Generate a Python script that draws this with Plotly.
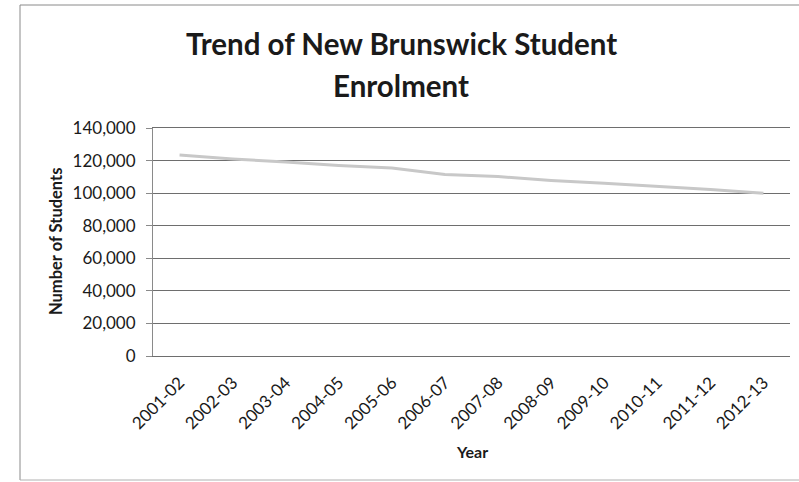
import plotly.graph_objects as go

years = ["2001-02", "2002-03", "2003-04", "2004-05", "2005-06", "2006-07",
         "2007-08", "2008-09", "2009-10", "2010-11", "2011-12", "2012-13"]
students = [123400, 121000, 119100, 117000, 115400, 111400,
            110200, 107800, 106000, 104200, 102200, 100000]
y_ticks = [0, 20000, 40000, 60000, 80000, 100000, 120000, 140000]
y_tick_labels = ["0", "20,000", "40,000", "60,000", "80,000", "100,000", "120,000", "140,000"]
title_lines = ["Trend of New Brunswick Student", "Enrolment"]

W, H = 799, 482
ML, MR, MT, MB = 153, 9, 128, 126
PW, PH = W - ML - MR, H - MT - MB

def px_x(px):
    return (px - ML) / PW

def px_y(py):
    return (H - MB - py) / PH

GRID = "#6e6e6e"

fig = go.Figure()
fig.add_trace(go.Scatter(
    x=years, y=students, mode="lines",
    line=dict(color="#c8c8c8", width=3),
    showlegend=False, hoverinfo="skip",
))

annotations = []
for i, line in enumerate(title_lines):
    annotations.append(dict(
        text=f"<b>{line}</b>", x=px_x(401), y=px_y(43 + 42 * i),
        xref="paper", yref="paper", xanchor="center", yanchor="middle",
        showarrow=False, font=dict(size=29.5, color="#1a1a1a")))
annotations += [
    dict(text="<b>Number of Students</b>", textangle=-90,
         x=px_x(56), y=px_y(242), xref="paper", yref="paper",
         xanchor="center", yanchor="middle", showarrow=False,
         font=dict(size=16.5, color="#1a1a1a")),
    dict(text="<b>Year</b>",
         x=px_x(472), y=px_y(451), xref="paper", yref="paper",
         xanchor="center", yanchor="middle", showarrow=False,
         font=dict(size=16, color="#1a1a1a")),
]

fig.update_layout(
    width=W, height=H,
    margin=dict(l=ML, r=MR, t=MT, b=MB, autoexpand=False),
    paper_bgcolor="white", plot_bgcolor="white",
    font=dict(family="Lato", color="#1a1a1a", size=17),
    xaxis=dict(
        type="category", range=[-0.5, 11.5],
        tickangle=-45, showgrid=False, zeroline=False,
        showline=True, mirror=True, linecolor=GRID, linewidth=1, ticks="",
        tickfont=dict(size=17), ticklabelstandoff=9,
    ),
    yaxis=dict(
        range=[0, 140000], tickvals=y_ticks, ticktext=y_tick_labels,
        showgrid=True, gridcolor=GRID, gridwidth=1,
        zeroline=False, showline=True, linecolor="#8a8a8a", linewidth=1,
        ticks="outside", ticklen=6, tickcolor="#8a8a8a",
        tickfont=dict(size=17), ticklabelstandoff=7,
    ),
    annotations=annotations,
    shapes=[
        dict(type="line", xref="paper", yref="paper",
             x0=px_x(20), x1=px_x(20), y0=px_y(5), y1=px_y(480),
             line=dict(color="#8a8a8a", width=1)),
        dict(type="line", xref="paper", yref="paper",
             x0=px_x(20), x1=px_x(805), y0=px_y(5), y1=px_y(5),
             line=dict(color="#8a8a8a", width=1)),
        dict(type="line", xref="paper", yref="paper",
             x0=px_x(20), x1=px_x(805), y0=px_y(480), y1=px_y(480),
             line=dict(color="#b0b0b0", width=1)),
    ],
)

fig.write_html("out.html")
